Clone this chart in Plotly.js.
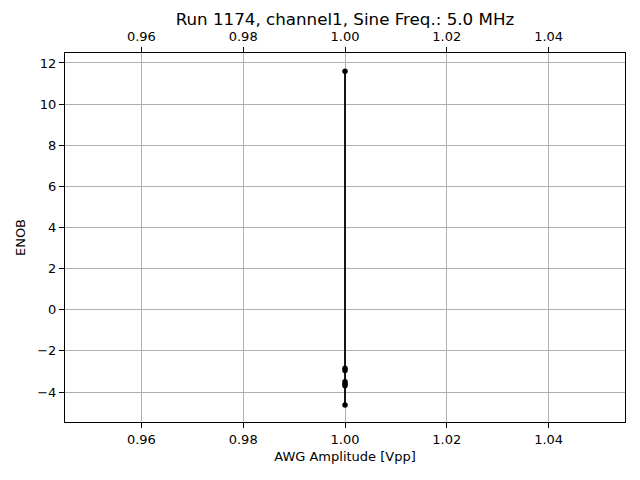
<!DOCTYPE html>
<html><head><meta charset="utf-8">
<script src="https://cdn.plot.ly/plotly-3.0.1.min.js"></script>
<style>body{margin:0;padding:0;background:#fff}#chart{width:640px;height:480px}</style>
</head><body><div id="chart"></div>
<script>
const amplitude = [1.0, 1.0, 1.0, 1.0, 1.0, 1.0, 1.0];
const enob = [11.6, -2.85, -2.95, -3.5, -3.6, -3.7, -4.63];
const tickVals = [0.96, 0.98, 1.00, 1.02, 1.04];
const tickText = ['0.96', '0.98', '1.00', '1.02', '1.04'];
const yTicks = [-4, -2, 0, 2, 4, 6, 8, 10, 12];

const font = {family: 'DejaVu Sans', size: 13, color: '#000'};
const traces = [
  {x: amplitude, y: enob, type: 'scatter', mode: 'lines+markers',
   line: {color: '#000', width: 1.8}, marker: {color: '#000', size: 5.5},
   xaxis: 'x', yaxis: 'y', showlegend: false, hoverinfo: 'none'},
  {x: amplitude, y: enob, type: 'scatter', mode: 'markers',
   marker: {opacity: 0}, xaxis: 'x2', yaxis: 'y', showlegend: false, hoverinfo: 'none'}
];
const axisBase = {
  showline: true, linecolor: '#000', linewidth: 1, ticks: 'outside', ticklen: 5,
  tickwidth: 1, tickcolor: '#000', zeroline: false, tickfont: font
};
const layout = {
  width: 640, height: 480,
  margin: {l: 65, r: 15, t: 53, b: 58},
  paper_bgcolor: '#fff', plot_bgcolor: '#fff',
  font: font,
  title: {text: 'Run 1174, channel1, Sine Freq.: 5.0 MHz', font: {family: 'DejaVu Sans', size: 16.7, color: '#000'},
          x: 0.539, xanchor: 'center', y: 0.96, yanchor: 'middle'},
  xaxis: Object.assign({}, axisBase, {
    range: [0.945, 1.055], tickvals: tickVals, ticktext: tickText,
    showgrid: true, gridcolor: '#b0b0b0', gridwidth: 1, mirror: false,
    title: {text: 'AWG Amplitude [Vpp]', font: font, standoff: 6}
  }),
  xaxis2: Object.assign({}, axisBase, {
    range: [0.945, 1.055], tickvals: tickVals, ticktext: tickText,
    overlaying: 'x', side: 'top', anchor: 'y', showgrid: false, ticklabelstandoff: 1
  }),
  yaxis: Object.assign({}, axisBase, {
    range: [-5.459, 12.486], tickvals: yTicks, showgrid: true, gridcolor: '#b0b0b0',
    gridwidth: 1, mirror: true,
    title: {text: 'ENOB', font: font, standoff: 8}
  })
};
Plotly.newPlot('chart', traces, layout, {staticPlot: true});
</script>
</body></html>
